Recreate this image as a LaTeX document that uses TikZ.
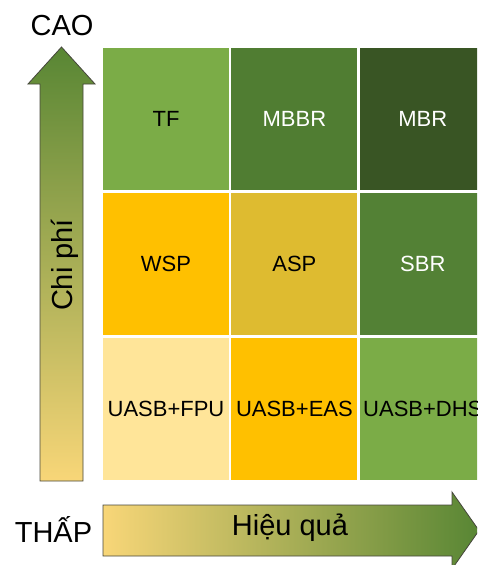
\documentclass[tikz,border=0pt]{standalone}
\usepackage{fontspec}
\setmainfont{Liberation Sans}
\usetikzlibrary{positioning}

\definecolor{tfgreen}{RGB}{123,172,71}
\definecolor{mbbrgreen}{RGB}{80,125,50}
\definecolor{mbrgreen}{RGB}{57,85,36}
\definecolor{sbrgreen}{RGB}{83,129,53}
\definecolor{wspyellow}{RGB}{255,192,0}
\definecolor{aspyellow}{RGB}{222,187,48}
\definecolor{fpuyellow}{RGB}{255,229,153}
\definecolor{arrowgreen}{RGB}{88,134,52}
\definecolor{arrowyellow}{RGB}{248,214,120}
\definecolor{arrowmid}{RGB}{232,205,110}
\definecolor{outline}{RGB}{70,70,60}

\begin{document}
\begin{tikzpicture}[x=1pt, y=-1pt, font=\fontsize{22}{26}\selectfont,
  node distance=2pt,
  cell/.style={minimum width=126pt, minimum height=142.5pt, inner sep=0pt},
  light/.style={text=white},
  axis label/.style={font=\fontsize{29}{34}\selectfont, anchor=base}]
\path[use as bounding box, clip] (0,0) rectangle (477,565);
%
% cost axis (vertical) and efficiency axis (horizontal)
\path[draw=outline, line width=0.8pt, top color=arrowgreen, bottom color=arrowyellow]
  (40,481) -- (40,84) -- (28,84) -- (61.5,47) -- (95,84) -- (83,84) -- (83,481) -- cycle;
\path[draw=outline, line width=0.8pt, left color=arrowyellow, middle color=arrowmid, right color=arrowgreen]
  (103,505) -- (452,505) -- (452,492) -- (479,530.5) -- (452,569) -- (452,556) -- (103,556) -- cycle;
\node[axis label] (high) at (62,35) {CAO};
\node[axis label] (low) at (53.5,542) {THẤP};
\node[axis label, rotate=90] (cost) at (72,265) {Chi phí};
\node[axis label] (effect) at (290,535) {Hiệu quả};
%
% technology grid
\node[cell, fill=tfgreen] (tf) at (166,119) {TF};
\node[cell, fill=mbbrgreen, light, right=of tf] (mbbr) {MBBR};
\node[cell, fill=mbrgreen, light, right=of mbbr] (mbr) {MBR};
\node[cell, fill=wspyellow, below=of tf] (wsp) {WSP};
\node[cell, fill=aspyellow, right=of wsp] (asp) {ASP};
\node[cell, fill=sbrgreen, light, right=of asp] (sbr) {SBR};
\node[cell, fill=fpuyellow, below=of wsp] (fpu) {UASB+FPU};
\node[cell, fill=wspyellow, right=of fpu] (eas) {UASB+EAS};
\node[cell, fill=tfgreen, right=of eas] (dhs) {UASB+DHS};
\end{tikzpicture}
\end{document}
